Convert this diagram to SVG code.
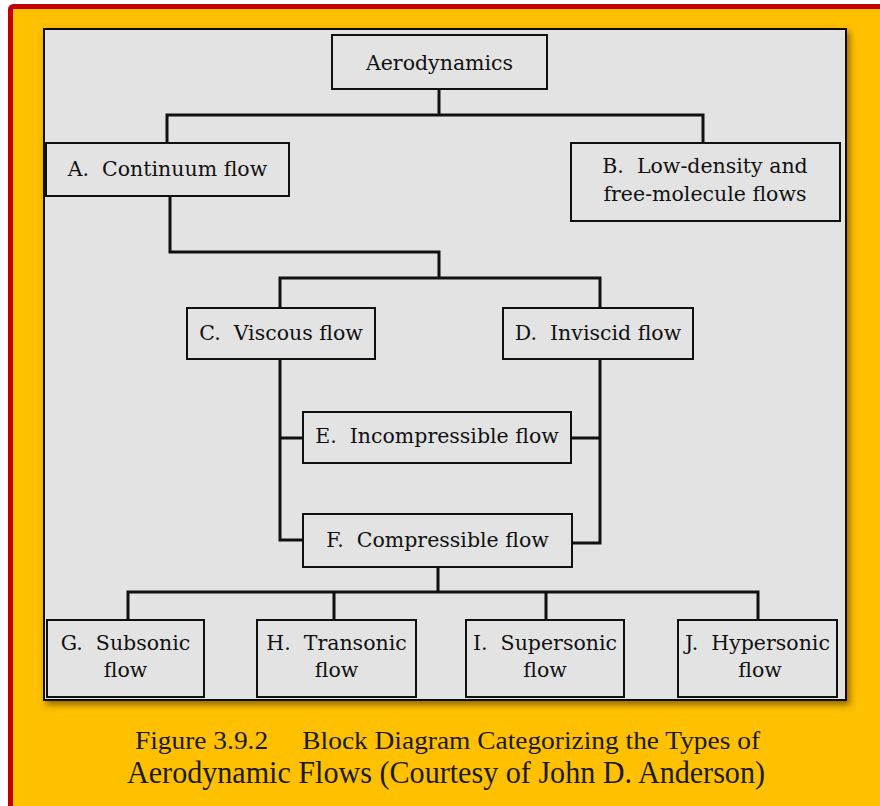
<svg xmlns="http://www.w3.org/2000/svg" width="880" height="806" viewBox="0 0 880 806">
  <defs>
    <filter id="shadow" x="-5%" y="-5%" width="115%" height="115%">
      <feDropShadow dx="3" dy="4" stdDeviation="3" flood-color="#3a2a00" flood-opacity="0.55"/>
    </filter>
    <style>
      .box { fill: #e3e3e3; stroke: #111; stroke-width: 2; }
      .lbl { font-family: "DejaVu Serif", "Liberation Serif", serif; font-size: 20.5px; fill: #111; text-anchor: middle; white-space: pre; }
      .wire { fill: none; stroke: #111; stroke-width: 3; stroke-linejoin: miter; stroke-linecap: square; }
      .cap { font-family: "Liberation Serif", "DejaVu Serif", serif; fill: #1a1a1a; text-anchor: middle; white-space: pre; }
    </style>
  </defs>

  <!-- page background and frame -->
  <rect x="0" y="0" width="880" height="806" fill="#ffffff"/>
  <rect x="10.5" y="6.5" width="900" height="840" rx="3" fill="#ffc000" stroke="#c00000" stroke-width="5"/>

  <!-- grey diagram panel -->
  <rect x="44" y="29" width="802" height="671" fill="#e3e3e3" stroke="#111" stroke-width="2" filter="url(#shadow)"/>

  <!-- connectors -->
  <g id="connectors">
    <path class="wire" d="M439,89 V115 M167,115 H703 M167,115 V143 M703,115 V143"/>
    <path class="wire" d="M170,196 V252 H439 V278 M280,278 H600 M280,278 V308 M600,278 V308"/>
    <path class="wire" d="M280,359 V540 H303 M280,438 H303"/>
    <path class="wire" d="M600,359 V543 H572 M600,438 H571"/>
    <path class="wire" d="M438,567 V592 M128,592 H758 M128,592 V620 M334,592 V620 M546,592 V620 M758,592 V620"/>
  </g>

  <!-- nodes -->
  <g id="aerodynamics">
    <rect class="box" x="332" y="35" width="215" height="54"/>
    <text class="lbl" x="439.5" y="70">Aerodynamics</text>
  </g>
  <g id="continuum">
    <rect class="box" x="46" y="143" width="243" height="53"/>
    <text class="lbl" x="167.5" y="176">A.  Continuum flow</text>
  </g>
  <g id="low-density">
    <rect class="box" x="571" y="143" width="269" height="78"/>
    <text class="lbl" x="705" y="173">B.  Low-density and</text>
    <text class="lbl" x="705" y="201">free-molecule flows</text>
  </g>
  <g id="viscous">
    <rect class="box" x="187" y="308" width="188" height="51"/>
    <text class="lbl" x="281" y="340">C.  Viscous flow</text>
  </g>
  <g id="inviscid">
    <rect class="box" x="503" y="308" width="190" height="51"/>
    <text class="lbl" x="598" y="340">D.  Inviscid flow</text>
  </g>
  <g id="incompressible">
    <rect class="box" x="303" y="412" width="268" height="51"/>
    <text class="lbl" x="437" y="443">E.  Incompressible flow</text>
  </g>
  <g id="compressible">
    <rect class="box" x="303" y="514" width="269" height="53"/>
    <text class="lbl" x="437.5" y="547">F.  Compressible flow</text>
  </g>
  <g id="subsonic">
    <rect class="box" x="47" y="620" width="157" height="77"/>
    <text class="lbl" x="125.5" y="650">G.  Subsonic</text>
    <text class="lbl" x="125.5" y="677">flow</text>
  </g>
  <g id="transonic">
    <rect class="box" x="257" y="620" width="159" height="77"/>
    <text class="lbl" x="336.5" y="650">H.  Transonic</text>
    <text class="lbl" x="336.5" y="677">flow</text>
  </g>
  <g id="supersonic">
    <rect class="box" x="466" y="620" width="158" height="77"/>
    <text class="lbl" x="545" y="650">I.  Supersonic</text>
    <text class="lbl" x="545" y="677">flow</text>
  </g>
  <g id="hypersonic">
    <rect class="box" x="678" y="620" width="159" height="77"/>
    <text class="lbl" x="757.5" y="650">J.  Hypersonic</text>
    <text class="lbl" x="760" y="677">flow</text>
  </g>

  <!-- caption -->
  <text class="cap" x="447.5" y="749" font-size="26" textLength="625" lengthAdjust="spacingAndGlyphs">Figure 3.9.2     Block Diagram Categorizing the Types of</text>
  <text class="cap" x="446" y="783" font-size="30.5" textLength="638" lengthAdjust="spacingAndGlyphs">Aerodynamic Flows (Courtesy of John D. Anderson)</text>
</svg>
